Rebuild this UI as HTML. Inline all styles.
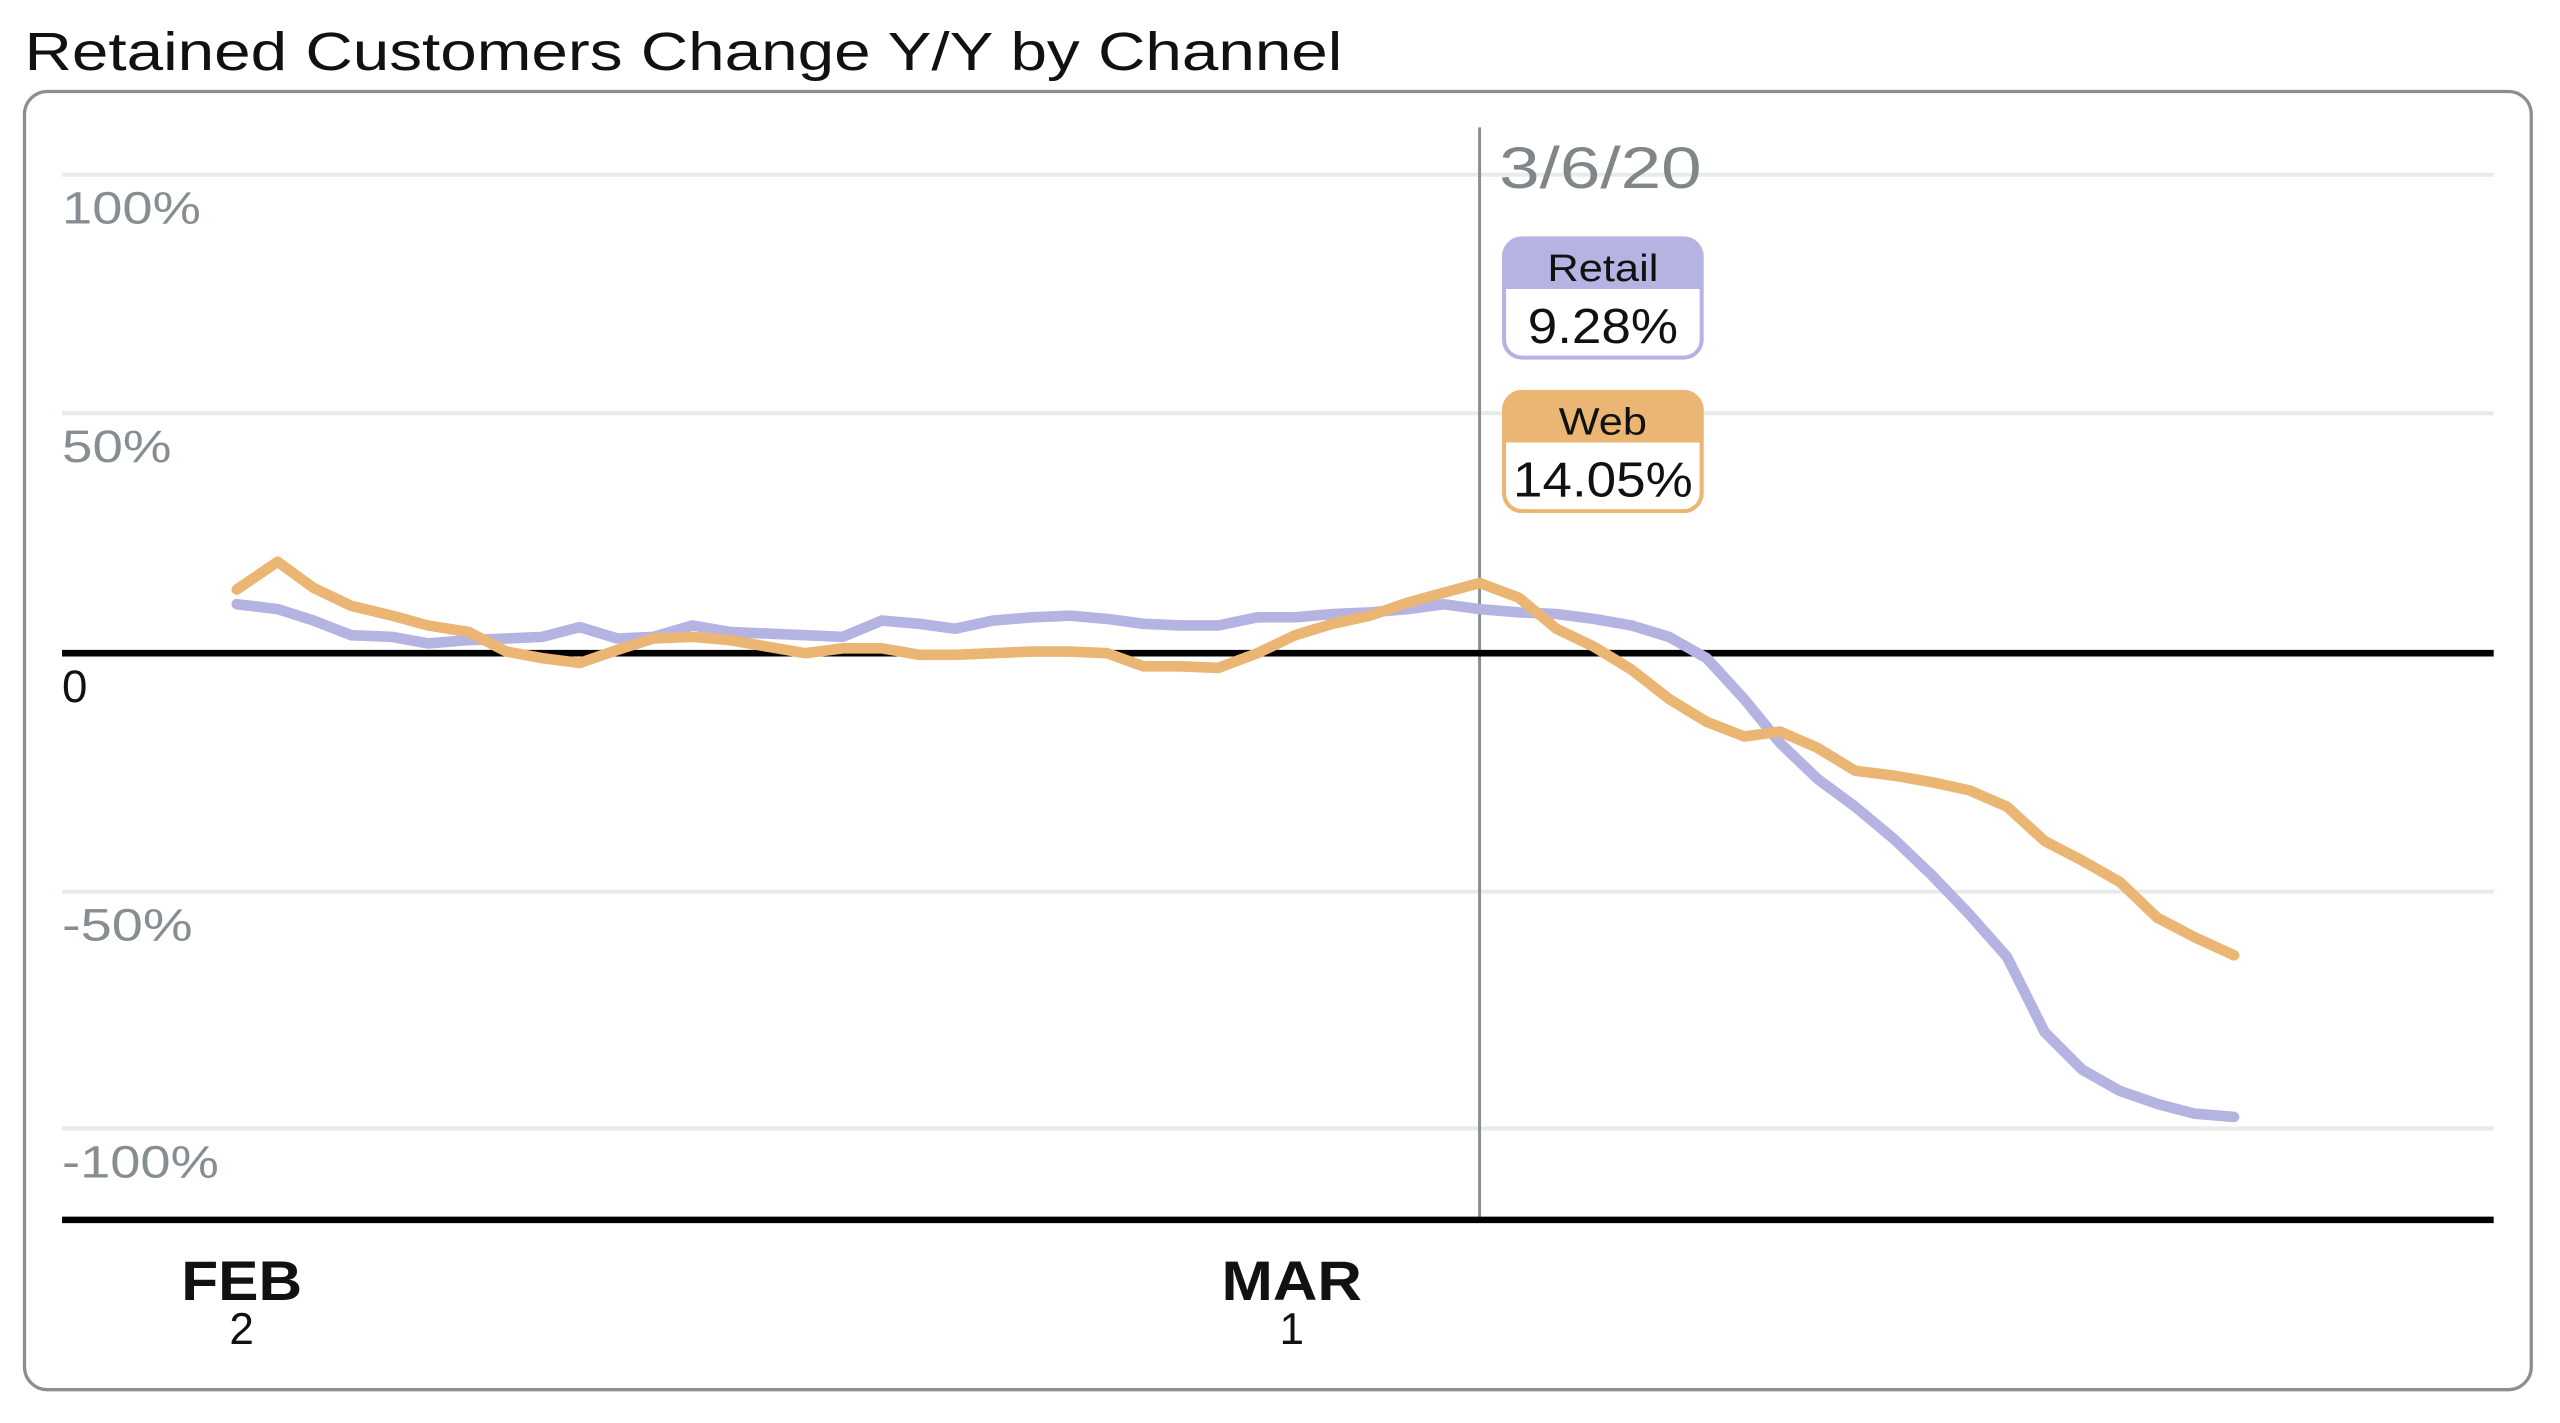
<!DOCTYPE html>
<html><head><meta charset="utf-8"><style>
html,body{margin:0;padding:0;background:#fff;}
svg{display:block;}
text{font-family:"Liberation Sans",sans-serif;}
</style></head><body>
<svg width="2560" height="1423" viewBox="0 0 1567.6 871.4" preserveAspectRatio="none" xmlns="http://www.w3.org/2000/svg">
<text x="15" y="43" font-size="33" fill="#111" textLength="807" lengthAdjust="spacingAndGlyphs">Retained Customers Change Y/Y by Channel</text>
<rect x="15" y="56" width="1535" height="795" rx="14" ry="14" fill="#fff" stroke="#8a8f93" stroke-width="2"/>
<g stroke="#e6ecea" stroke-width="2.5">
<line x1="38" y1="107" x2="1527" y2="107"/>
<line x1="38" y1="253" x2="1527" y2="253"/>
<line x1="38" y1="546" x2="1527" y2="546"/>
<line x1="38" y1="691" x2="1527" y2="691"/>
</g>
<g font-size="28" fill="#878e92">
<text x="38" y="137" textLength="85" lengthAdjust="spacingAndGlyphs">100%</text>
<text x="38" y="283" textLength="67" lengthAdjust="spacingAndGlyphs">50%</text>
<text x="38" y="576" textLength="80" lengthAdjust="spacingAndGlyphs">-50%</text>
<text x="38" y="721" textLength="96" lengthAdjust="spacingAndGlyphs">-100%</text>
</g>
<text x="38" y="430" font-size="28" fill="#111">0</text>
<line x1="906" y1="78" x2="906" y2="747" stroke="#8a8e90" stroke-width="1.8"/>
<line x1="38" y1="400" x2="1527" y2="400" stroke="#000" stroke-width="4"/>
<line x1="38" y1="747" x2="1527" y2="747" stroke="#000" stroke-width="4"/>
<polyline fill="none" stroke="#b5b3e2" stroke-width="6.5" stroke-linejoin="round" stroke-linecap="round" points="145,370 170,373 192,380 215,389 240,390 262,394 287,392 310,391 332,390 355,384 378,391 400,390 424,383 447,387 470,388 493,389 516,390 540,380 563,382 585,385 608,380 632,378 655,377 678,379 700,382 723,383 746,383 770,378 793,378 816,376 839,375 862,373 884,370 906,373 930,375 953,376 976,379 999,383 1022,390 1045,403 1068,428 1090,455 1113,477 1136,494 1160,514 1183,536 1206,560 1229,586 1252,632 1275,655 1298,668 1321,676 1344,682 1368,684"/>
<polyline fill="none" stroke="#ebb574" stroke-width="6.5" stroke-linejoin="round" stroke-linecap="round" points="145,361 170,344 192,360 215,371 240,377 262,383 287,387 310,399 332,403 355,406 378,398 400,391 424,390 447,392 470,396 493,400 516,397 540,397 563,401 585,401 608,400 632,399 655,399 678,400 700,408 723,408 746,409 770,400 793,389 816,382 839,377 862,369 884,363 906,357 930,366 953,385 976,396 999,410 1022,428 1045,442 1068,451 1090,448 1113,458 1136,472 1160,475 1183,479 1206,484 1229,494 1252,515 1275,527 1298,540 1321,562 1344,574 1368,585"/>
<text x="918" y="115" font-size="36" fill="#808689" textLength="124" lengthAdjust="spacingAndGlyphs">3/6/20</text>
<path d="M921,177 L921,157 Q921,146 932,146 L1031,146 Q1042,146 1042,157 L1042,177 Z" fill="#b5b3e2"/>
<rect x="921" y="146" width="121" height="73" rx="11" fill="none" stroke="#b5b3e2" stroke-width="2.5"/>
<text x="981.5" y="172" font-size="23" fill="#111" text-anchor="middle" textLength="68" lengthAdjust="spacingAndGlyphs">Retail</text>
<text x="981.5" y="210" font-size="30" fill="#111" text-anchor="middle" textLength="92" lengthAdjust="spacingAndGlyphs">9.28%</text>
<path d="M921,271 L921,251 Q921,240 932,240 L1031,240 Q1042,240 1042,251 L1042,271 Z" fill="#ebb574"/>
<rect x="921" y="240" width="121" height="73" rx="11" fill="none" stroke="#ebb574" stroke-width="2.5"/>
<text x="981.5" y="266" font-size="23" fill="#111" text-anchor="middle" textLength="54" lengthAdjust="spacingAndGlyphs">Web</text>
<text x="981.5" y="304" font-size="30" fill="#111" text-anchor="middle" textLength="110" lengthAdjust="spacingAndGlyphs">14.05%</text>
<text x="148" y="796" font-size="34" font-weight="bold" fill="#111" text-anchor="middle" textLength="74" lengthAdjust="spacingAndGlyphs">FEB</text>
<text x="148" y="823" font-size="27" fill="#111" text-anchor="middle">2</text>
<text x="791" y="796" font-size="34" font-weight="bold" fill="#111" text-anchor="middle" textLength="86" lengthAdjust="spacingAndGlyphs">MAR</text>
<text x="791" y="823" font-size="27" fill="#111" text-anchor="middle">1</text>
</svg>
</body></html>
